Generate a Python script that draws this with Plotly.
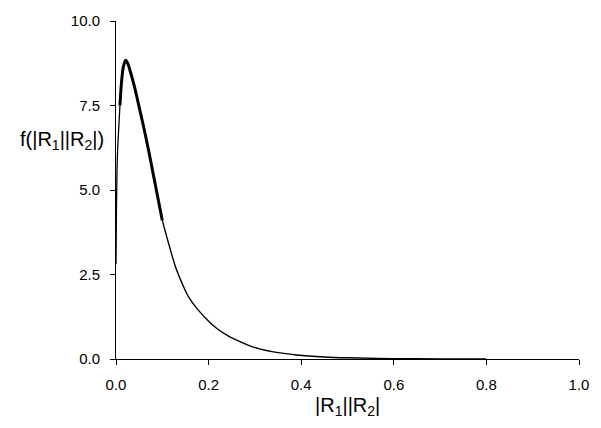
import plotly.graph_objects as go

# values
x_rise = [0.0, 0.001, 0.003, 0.005, 0.0085]
y_rise = [2.8, 4.5, 6.0, 6.6, 7.5]

x_peak = [0.0085, 0.012, 0.016, 0.021, 0.026, 0.03, 0.04, 0.05, 0.06, 0.07, 0.08, 0.09, 0.1]
y_peak = [7.5, 8.2, 8.65, 8.84, 8.72, 8.55, 8.05, 7.45, 6.85, 6.2, 5.5, 4.8, 4.1]

x_tail = [0.1, 0.115, 0.129, 0.143, 0.157, 0.175, 0.2, 0.22, 0.243, 0.265, 0.285,
          0.31, 0.34, 0.39, 0.45, 0.5, 0.6, 0.7, 0.8]
y_tail = [4.1, 3.35, 2.71, 2.23, 1.83, 1.49, 1.12, 0.88, 0.68, 0.53, 0.41,
          0.3, 0.21, 0.12, 0.06, 0.035, 0.012, 0.004, 0.001]

x_ticks = [0.0, 0.2, 0.4, 0.6, 0.8, 1.0]
y_ticks = [0.0, 2.5, 5.0, 7.5, 10.0]

fig = go.Figure()
fig.add_trace(go.Scatter(x=x_rise, y=y_rise, mode="lines", line=dict(color="black", width=1.3, shape="spline"), showlegend=False))
fig.add_trace(go.Scatter(x=x_peak, y=y_peak, mode="lines", line=dict(color="black", width=3, shape="spline"), showlegend=False))
fig.add_trace(go.Scatter(x=x_tail, y=y_tail, mode="lines", line=dict(color="black", width=1.4, shape="spline"), showlegend=False))

font = "Liberation Sans, Arial, sans-serif"
fig.update_layout(
    width=601, height=428,
    margin=dict(l=116, r=14, t=19, b=69),
    paper_bgcolor="white", plot_bgcolor="white",
    font=dict(family=font, size=15, color="black"),
    xaxis=dict(range=[0, 1], tickvals=x_ticks, ticktext=[f"{v:.1f}" for v in x_ticks],
               showgrid=False, zeroline=False, showline=True, linecolor="black", linewidth=1,
               ticks="outside", ticklen=5, tickcolor="black", tickfont=dict(size=15),
               ticklabelstandoff=7),
    yaxis=dict(range=[0, 10], tickvals=y_ticks, ticktext=[f"{v:.1f}" for v in y_ticks],
               showgrid=False, zeroline=False, showline=True, linecolor="black", linewidth=1,
               ticks="outside", ticklen=5, tickcolor="black", tickfont=dict(size=15),
               ticklabelstandoff=7),
    annotations=[
        dict(text="f(|R<sub>1</sub>||R<sub>2</sub>|)", xref="paper", yref="paper",
             x=-0.021, y=0.645, xanchor="right", yanchor="middle", showarrow=False,
             font=dict(size=20, family=font)),
        dict(text="|R<sub>1</sub>||R<sub>2</sub>|", xref="paper", yref="paper",
             x=0.501, y=-0.141, xanchor="center", yanchor="middle", showarrow=False,
             font=dict(size=20, family=font)),
    ],
)
fig.write_html("out.html", config={"displayModeBar": False},
               post_script="document.body.style.margin='0';document.body.style.overflow='hidden';")
